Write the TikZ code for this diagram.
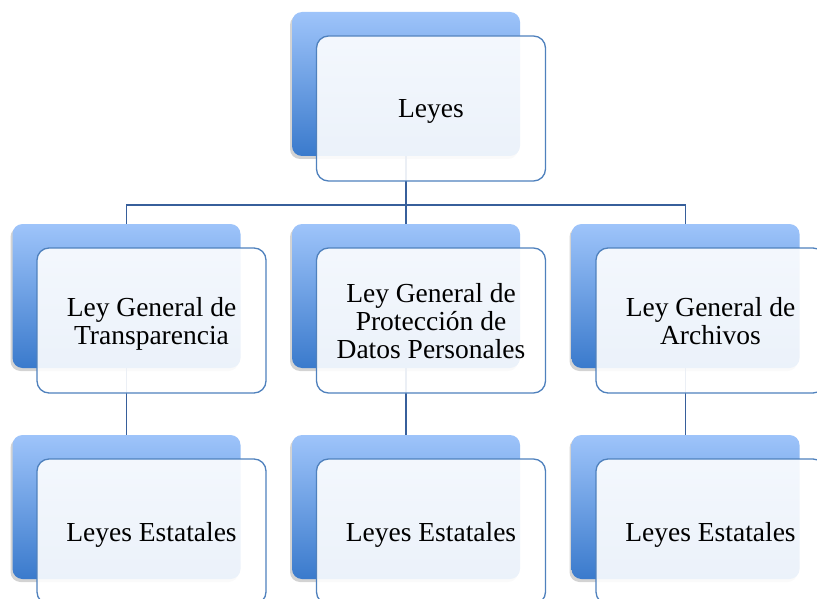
\documentclass[tikz,border=0pt]{standalone}
\usepackage{fontspec}
\setmainfont{Liberation Serif}
\usetikzlibrary{calc, shadows}
\definecolor{backtop}{RGB}{158,196,250}
\definecolor{backbottom}{RGB}{58,122,204}
\definecolor{boxedge}{RGB}{79,129,189}
\definecolor{linkline}{RGB}{55,95,155}
\begin{document}
\begin{tikzpicture}[x=1pt, y=-1pt,
  backbox/.style={rounded corners=10pt, minimum width=228pt, minimum height=144pt, inner sep=0pt, top color=backtop, bottom color=backbottom, drop shadow={shadow xshift=-2pt, shadow yshift=-3pt, opacity=0.35}},
  frontbox/.style={rounded corners=12pt, minimum width=229pt, minimum height=145pt, inner sep=0pt, text depth=0pt, draw=boxedge, line width=1.3pt, fill=white, fill opacity=0.9, text opacity=1, align=center, font=\fontsize{27.5}{28}\selectfont, xshift=25pt, yshift=-24.5pt},
  link/.style={draw=linkline, line width=1.7pt}]
% Page
\clip (0,0) rectangle (817,599);
% Back boxes
\node[backbox] (back-leyes) at (406,84) {};
\node[backbox] (back-transparencia) at (126.5,296) {};
\node[backbox] (back-datos) at (406,296) {};
\node[backbox] (back-archivos) at (685.5,296) {};
\node[backbox] (back-estatal-1) at (126.5,507) {};
\node[backbox] (back-estatal-2) at (406,507) {};
\node[backbox] (back-estatal-3) at (685.5,507) {};
% Connectors
\coordinate (bus) at (406,205);
\draw[link] (back-leyes.south) -- (bus);
\draw[link] (bus) -| (back-transparencia.north);
\draw[link] (bus) -| (back-archivos.north);
\draw[link] (bus) -- (back-datos.north);
\draw[link] (back-transparencia.south) -- (back-estatal-1.north);
\draw[link] (back-datos.south) -- (back-estatal-2.north);
\draw[link] (back-archivos.south) -- (back-estatal-3.north);
% Front boxes with text
\node[frontbox] (leyes) at (back-leyes.center) {Leyes};
\node[frontbox] (transparencia) at (back-transparencia.center) {Ley General de\\Transparencia};
\node[frontbox] (datos) at (back-datos.center) {Ley General de\\Protección de\\Datos Personales};
\node[frontbox] (archivos) at (back-archivos.center) {Ley General de\\Archivos};
\node[frontbox] (estatal-1) at (back-estatal-1.center) {Leyes Estatales};
\node[frontbox] (estatal-2) at (back-estatal-2.center) {Leyes Estatales};
\node[frontbox] (estatal-3) at (back-estatal-3.center) {Leyes Estatales};
\end{tikzpicture}
\end{document}
